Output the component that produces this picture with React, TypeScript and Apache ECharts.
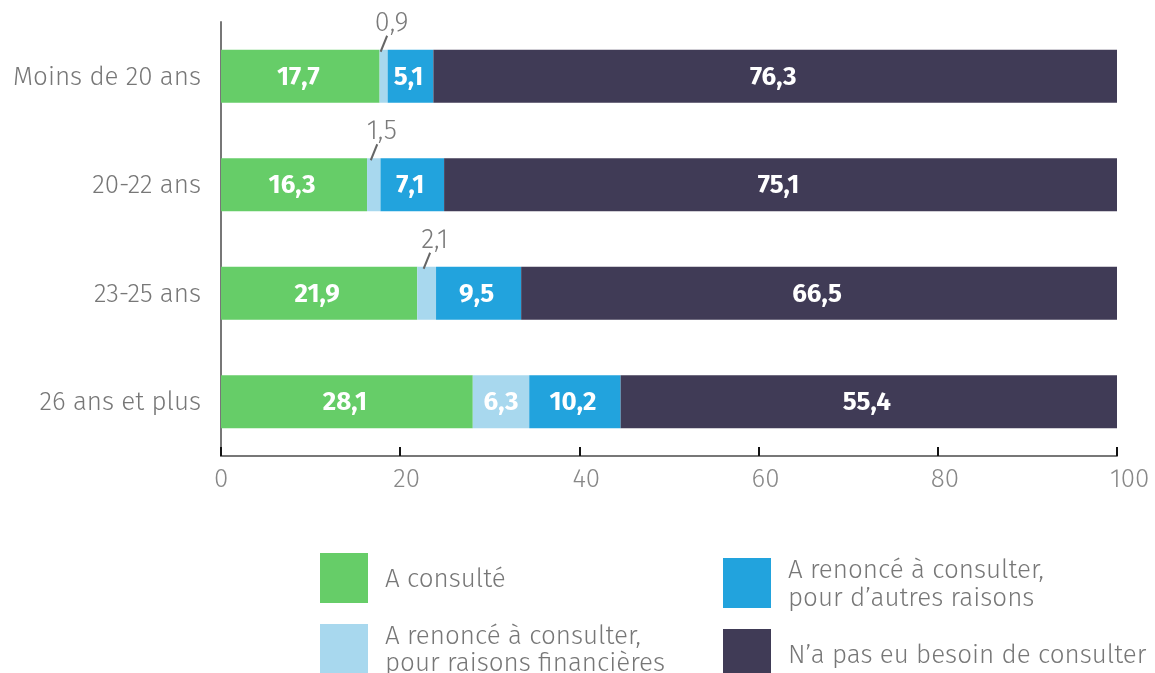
import React, { useEffect, useRef } from "react";
import * as echarts from "echarts";

const categories = ["Moins de 20 ans", "20-22 ans", "23-25 ans", "26 ans et plus"];
const consulte = [17.7, 16.3, 21.9, 28.1];
const renonceFin = [0.9, 1.5, 2.1, 6.3];
const renonceAutres = [5.1, 7.1, 9.5, 10.2];
const pasBesoin = [76.3, 75.1, 66.5, 55.4];
const xTicks = [0, 20, 40, 60, 80, 100];

const seriesNames = [
  "A consulté",
  "A renoncé à consulter,\npour raisons financières",
  "A renoncé à consulter,\npour d’autres raisons",
  "N’a pas eu besoin de consulter",
];
const colors = ["#66CD68", "#A8D8EE", "#22A3DD", "#403B56"];

const FONT = "'Fira Sans', 'Open Sans', 'Noto Sans', sans-serif";
const fmt = (v: number) => String(v).replace(".", ",");
const BAR_W = 53;
const smallLimit = 3;

export default function App() {
  const ref = useRef<HTMLDivElement>(null);
  useEffect(() => {
    if (!ref.current) return;
    const chart = echarts.init(ref.current, undefined, { renderer: "svg" });
    const insideLabel = {
      show: true,
      position: "inside",
      color: "#ffffff",
      fontSize: 26,
      fontWeight: "bold",
      fontFamily: FONT,
      offset: [-2, 0],
      formatter: (p: any) => fmt(p.value),
    };
    const legendBase = (lh: number) => ({
      orient: "vertical",
      itemWidth: 48,
      itemHeight: 50,
      padding: 0,
      icon: "rect",
      selectedMode: false,
      textStyle: {
        fontSize: 26,
        fontWeight: 300,
        color: "#777777",
        fontFamily: FONT,
        lineHeight: lh,
        padding: [0, 0, 0, 12],
      },
    });
    chart.setOption({
      animation: false,
      color: colors,
      grid: { left: 221, right: 38, top: 22, bottom: 217, containLabel: false },
      legend: [
        { ...legendBase(28), data: [seriesNames[0]], left: 320, top: 553 },
        { ...legendBase(27), data: [seriesNames[1]], left: 320, top: 622 },
        { ...legendBase(28), data: [seriesNames[2]], left: 723, top: 555 },
        { ...legendBase(28), data: [seriesNames[3]], left: 723, top: 629 },
      ],
      xAxis: {
        type: "value",
        min: xTicks[0],
        max: xTicks[xTicks.length - 1],
        interval: 20,
        axisLine: { show: true, lineStyle: { color: "#777777", width: 2 } },
        axisTick: { show: true, inside: true, length: 9, lineStyle: { color: "#111111", width: 2 } },
        splitLine: { show: false },
        axisLabel: {
          fontSize: 26,
          fontWeight: 300,
          color: "#888888",
          fontFamily: FONT,
          margin: 9,
          align: "left",
          padding: [0, 0, 0, -7],
        },
      },
      yAxis: {
        type: "category",
        inverse: true,
        data: categories,
        axisLine: { show: true, lineStyle: { color: "#777777", width: 2 } },
        axisTick: { show: false },
        axisLabel: { fontSize: 26, fontWeight: 300, color: "#777777", fontFamily: FONT, margin: 20 },
      },
      series: [
        {
          name: seriesNames[0],
          type: "bar",
          stack: "total",
          barWidth: BAR_W,
          data: consulte,
          label: insideLabel,
        },
        {
          name: seriesNames[1],
          type: "bar",
          stack: "total",
          barWidth: BAR_W,
          data: renonceFin.map((v) =>
            v < smallLimit
              ? {
                  value: v,
                  label: {
                    show: true,
                    position: "top",
                    color: "#7a7a7a",
                    fontSize: 27,
                    fontWeight: 300,
                    fontFamily: FONT,
                    formatter: (p: any) => fmt(p.value),
                  },
                }
              : { value: v }
          ),
          label: insideLabel,
          labelLayout: (params: any) => {
            if (renonceFin[params.dataIndex] >= smallLimit) return {};
            const r = params.rect;
            const cx = r.x + r.width / 2;
            return {
              x: cx + 8,
              y: r.y - 28,
              align: "center",
              verticalAlign: "middle",
            };
          },
        },
        {
          name: seriesNames[2],
          type: "bar",
          stack: "total",
          barWidth: BAR_W,
          data: renonceAutres,
          label: insideLabel,
        },
        {
          name: seriesNames[3],
          type: "bar",
          stack: "total",
          barWidth: BAR_W,
          data: pasBesoin,
          label: insideLabel,
        },
      ],
    });
    // leader lines for the small "raisons financières" values, placed through the chart's scales
    const leaders: any[] = [];
    renonceFin.forEach((v, i) => {
      if (v >= smallLimit) return;
      const p = chart.convertToPixel({ seriesIndex: 1 }, [consulte[i] + v / 2, i]) as number[];
      if (!p) return;
      const top = p[1] - BAR_W / 2;
      leaders.push({
        type: "line",
        silent: true,
        z: 10,
        shape: { x1: p[0] - 3, y1: top + 2, x2: p[0] + 3.5, y2: top - 14 },
        style: { stroke: "#666666", lineWidth: 2 },
      });
    });
    chart.setOption({ graphic: leaders });
    return () => chart.dispose();
  }, []);
  return (
    <div
      ref={ref}
      style={{ position: "fixed", left: 0, top: 0, width: 1155, height: 673 }}
    />
  );
}
